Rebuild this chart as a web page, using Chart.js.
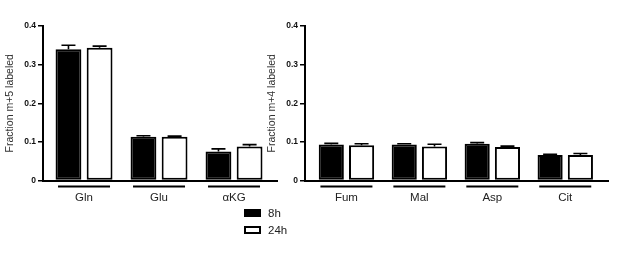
<!DOCTYPE html>
<html>
<head>
<meta charset="utf-8">
<script src="https://cdn.jsdelivr.net/npm/chart.js@4.4.1/dist/chart.umd.min.js"></script>
<style>
  html, body { margin: 0; padding: 0; background: #fff; }
  body { width: 617px; height: 254px; position: relative; overflow: hidden; font-family: "Liberation Sans", Arial, sans-serif; }
  #c1 { position: absolute; left: 0; top: 0; }
  #c2 { position: absolute; left: 262px; top: 0; }
  .leg { position: absolute; left: 244px; font-size: 11.5px; color: #222; }
  .leg .box { position: absolute; left: 0; width: 17px; height: 8px; box-sizing: border-box; border: 2px solid #000; }
  .leg .txt { position: absolute; left: 24px; top: -1px; white-space: nowrap; line-height: 11px; }
</style>
</head>
<body>
<canvas id="c1" width="285" height="254"></canvas>
<canvas id="c2" width="355" height="254"></canvas>
<div class="leg" style="top:209px"><div class="box" style="background:#000"></div><div class="txt">8h</div></div>
<div class="leg" style="top:226px"><div class="box" style="background:#fff"></div><div class="txt">24h</div></div>
<script>
// ---- data ----
const leftCategories = ["Gln", "Glu", "αKG"];
const left8h = [0.340, 0.113, 0.075];
const left8hErr = [0.010, 0.003, 0.007];
const left24h = [0.344, 0.113, 0.088];
const left24hErr = [0.004, 0.002, 0.005];

const rightCategories = ["Fum", "Mal", "Asp", "Cit"];
const right8h = [0.093, 0.093, 0.095, 0.066];
const right8hErr = [0.003, 0.002, 0.003, 0.002];
const right24h = [0.091, 0.088, 0.087, 0.066];
const right24hErr = [0.004, 0.006, 0.002, 0.004];

const seriesLabels = ["8h", "24h"];
const yTicks = [0, 0.1, 0.2, 0.3, 0.4];

const FONT = "'Liberation Sans', Arial, sans-serif";

const errorBars = {
  id: 'errorBars',
  afterDatasetsDraw(chart) {
    const ctx = chart.ctx;
    const y = chart.scales.y;
    ctx.save();
    ctx.strokeStyle = '#000';
    ctx.lineWidth = 1.6;
    chart.data.datasets.forEach((ds, di) => {
      const meta = chart.getDatasetMeta(di);
      meta.data.forEach((el, i) => {
        const v = ds.data[i].y, e = ds.errors[i];
        const yt = y.getPixelForValue(v + e);
        const half = 7;
        ctx.beginPath();
        ctx.moveTo(el.x, el.y);
        ctx.lineTo(el.x, yt);
        ctx.moveTo(el.x - half, yt);
        ctx.lineTo(el.x + half, yt);
        ctx.stroke();
      });
    });
    ctx.restore();
  }
};

const underlines = {
  id: 'underlines',
  afterDraw(chart) {
    const ctx = chart.ctx;
    const x = chart.scales.x;
    const cats = chart.options.plugins.underlines.cats;
    ctx.save();
    ctx.strokeStyle = '#000';
    ctx.lineWidth = 2;
    cats.forEach((c, i) => {
      const px = x.getPixelForValue(i);
      ctx.beginPath();
      ctx.moveTo(px - 26, 186.5);
      ctx.lineTo(px + 26, 186.5);
      ctx.stroke();
    });
    ctx.restore();
  }
};

function makeChart(id, cats, d8, e8, d24, e24, xmin, xmax, padRight, title) {
  const toXY = arr => arr.map((v, i) => ({ x: i, y: v }));
  return new Chart(document.getElementById(id), {
    type: 'bar',
    data: {
      datasets: [
        { label: seriesLabels[0], data: toXY(d8), errors: e8, backgroundColor: '#000', borderColor: '#000', borderWidth: 2, borderSkipped: false },
        { label: seriesLabels[1], data: toXY(d24), errors: e24, backgroundColor: '#fff', borderColor: '#000', borderWidth: 2, borderSkipped: false }
      ]
    },
    options: {
      responsive: false,
      animation: false,
      devicePixelRatio: 1,
      categoryPercentage: 0.83,
      barPercentage: 0.83,
      layout: { padding: { top: 26, right: padRight, left: 0, bottom: 0 } },
      plugins: {
        legend: { display: false },
        tooltip: { enabled: false },
        underlines: { cats: cats }
      },
      scales: {
        x: {
          type: 'linear',
          offset: false,
          min: xmin, max: xmax,
          afterBuildTicks: s => { s.ticks = cats.map((c, i) => ({ value: i })); },
          afterFit: s => { s.height = 73.5; },
          grid: { display: false, drawTicks: false },
          border: { display: true, color: '#000', width: 2 },
          ticks: {
            autoSkip: false, maxRotation: 0,
            padding: 10,
            color: '#222',
            font: { family: FONT, size: 11.5 },
            callback: v => cats[v] ?? ''
          }
        },
        y: {
          min: 0, max: 0.4,
          afterBuildTicks: s => { s.ticks = yTicks.map(v => ({ value: v })); },
          afterFit: s => { s.width = 43; },
          grid: { drawOnChartArea: false, drawTicks: true, tickLength: 5, color: '#000', lineWidth: 1.5 },
          border: { display: true, color: '#000', width: 2 },
          ticks: {
            padding: 2,
            color: '#111',
            font: { family: FONT, size: 8.5, weight: 'bold' },
            callback: v => v === 0 ? '0' : v.toFixed(1)
          },
          title: {
            display: true, text: title, color: '#333',
            font: { family: FONT, size: 10.5 },
            padding: { top: 4, bottom: 0 }
          }
        }
      }
    },
    plugins: [errorBars, underlines]
  });
}

makeChart('c1', leftCategories, left8h, left8hErr, left24h, left24hErr, -0.547, 2.573, 8, 'Fraction m+5 labeled');
makeChart('c2', rightCategories, right8h, right8hErr, right24h, right24hErr, -0.568, 3.586, 9, 'Fraction m+4 labeled');
</script>
</body>
</html>
